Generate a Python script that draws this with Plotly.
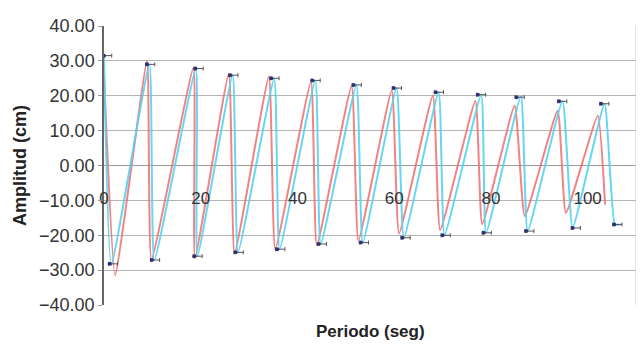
import plotly.graph_objects as go

# --- data ---
cyan_x = [0, 1.5, 9.4, 10.4, 19.0, 19.3, 26.6, 27.7, 35.2, 36.3, 43.7, 44.8, 52.2, 53.5,
          60.5, 62.0, 69.2, 70.4, 78.0, 79.0, 86.2, 87.6, 94.8, 96.9, 103.5, 105.6, 106.8]
cyan_y = [31.0, -28.5, 29.0, -27.1, 27.8, -26.0, 25.9, -24.9, 25.0, -24.0, 24.4, -22.5, 23.1, -22.1,
          22.2, -20.7, 21.0, -20.0, 20.3, -19.3, 19.9, -18.8, 18.5, -17.9, 17.7, -16.9, -16.9]

red_x = [0, 2.3, 8.9, 9.8, 18.5, 18.8, 25.8, 27.0, 34.1, 35.4, 42.8, 44.0, 51.2, 52.6,
         59.5, 61.0, 68.0, 69.5, 76.8, 78.2, 84.9, 87.0, 93.8, 95.5, 102.1, 103.6]
red_y = [26.0, -31.5, 30.0, -27.0, 28.0, -26.5, 26.3, -25.2, 25.5, -24.0, 24.0, -22.8, 22.8, -21.5,
         21.5, -19.5, 20.0, -18.5, 18.5, -16.8, 17.1, -14.5, 15.7, -13.6, 14.3, -11.2]

dark_x = [0, 1.2, 8.9, 9.9, 18.9, 18.7, 26.1, 27.2, 34.6, 35.8, 43.1, 44.4, 51.6, 53.1,
          59.9, 61.7, 68.6, 70.0, 77.3, 78.5, 85.3, 87.3, 94.1, 96.9, 102.8, 105.5]
dark_y = [31.5, -28.2, 29.0, -27.1, 27.8, -26.0, 25.9, -24.9, 25.0, -24.0, 24.4, -22.5, 23.1, -22.1,
          22.2, -20.7, 21.0, -20.0, 20.3, -19.3, 19.6, -18.8, 18.4, -17.9, 17.7, -16.9]

x_ticks = [0, 20, 40, 60, 80, 100]
y_ticks = [-40, -30, -20, -10, 0, 10, 20, 30, 40]

FONT = "Liberation Sans, Arial, sans-serif"

fig = go.Figure()
fig.add_trace(go.Scatter(
    x=red_x, y=red_y, mode="lines",
    line=dict(color="#F26E6E", width=2, shape="spline", smoothing=0.4),
    opacity=0.85, showlegend=False))
fig.add_trace(go.Scatter(
    x=cyan_x, y=cyan_y, mode="lines",
    line=dict(color="#55D3F3", width=2, shape="spline", smoothing=0.4),
    opacity=0.9, showlegend=False))
fig.add_trace(go.Scatter(
    x=dark_x, y=dark_y, mode="markers",
    marker=dict(color="#2E3170", size=4),
    error_x=dict(type="data", symmetric=False,
                 array=[1.6] * len(dark_x), arrayminus=[0.3] * len(dark_x),
                 color="#555555", thickness=1, width=2),
    showlegend=False, hoverinfo="skip"))

# page body has an 8px margin, so the figure is sized to fill the rest of the window
fig.update_layout(
    width=636, height=336,
    margin=dict(l=96, r=8, t=14, b=39),
    paper_bgcolor="white", plot_bgcolor="white",
    font=dict(family=FONT, color="#333333"),
    xaxis=dict(
        range=[0, 110], tickvals=x_ticks, ticktext=[str(v) for v in x_ticks],
        showgrid=False, zeroline=False, showline=False, ticks="",
        anchor="free", position=0.428,
        tickfont=dict(size=17, color="#333333"),
    ),
    yaxis=dict(
        range=[-40, 40], tickvals=y_ticks, tickformat=".2f",
        showgrid=True, gridcolor="#B4B4B4", gridwidth=1,
        zeroline=True, zerolinecolor="#9A9A9A", zerolinewidth=1,
        showline=True, linecolor="#666666", linewidth=1.5,
        ticks="outside", ticklen=4, tickcolor="#999999",
        tickfont=dict(size=18, color="#333333"),
        title=dict(text="<b>Amplitud (cm)</b>", font=dict(size=18, color="#222222"), standoff=8),
    ),
    annotations=[dict(text="<b>Periodo (seg)</b>", xref="paper", yref="paper",
                      x=0.5, y=0, yshift=-26, xanchor="center", yanchor="middle",
                      showarrow=False, font=dict(size=17, color="#222222"))],
    shapes=[dict(type="line", xref="paper", yref="paper", x0=1, x1=1, y0=0, y1=1,
                 line=dict(color="#C8C8C8", width=1))],
)

fig.write_html("out.html")
